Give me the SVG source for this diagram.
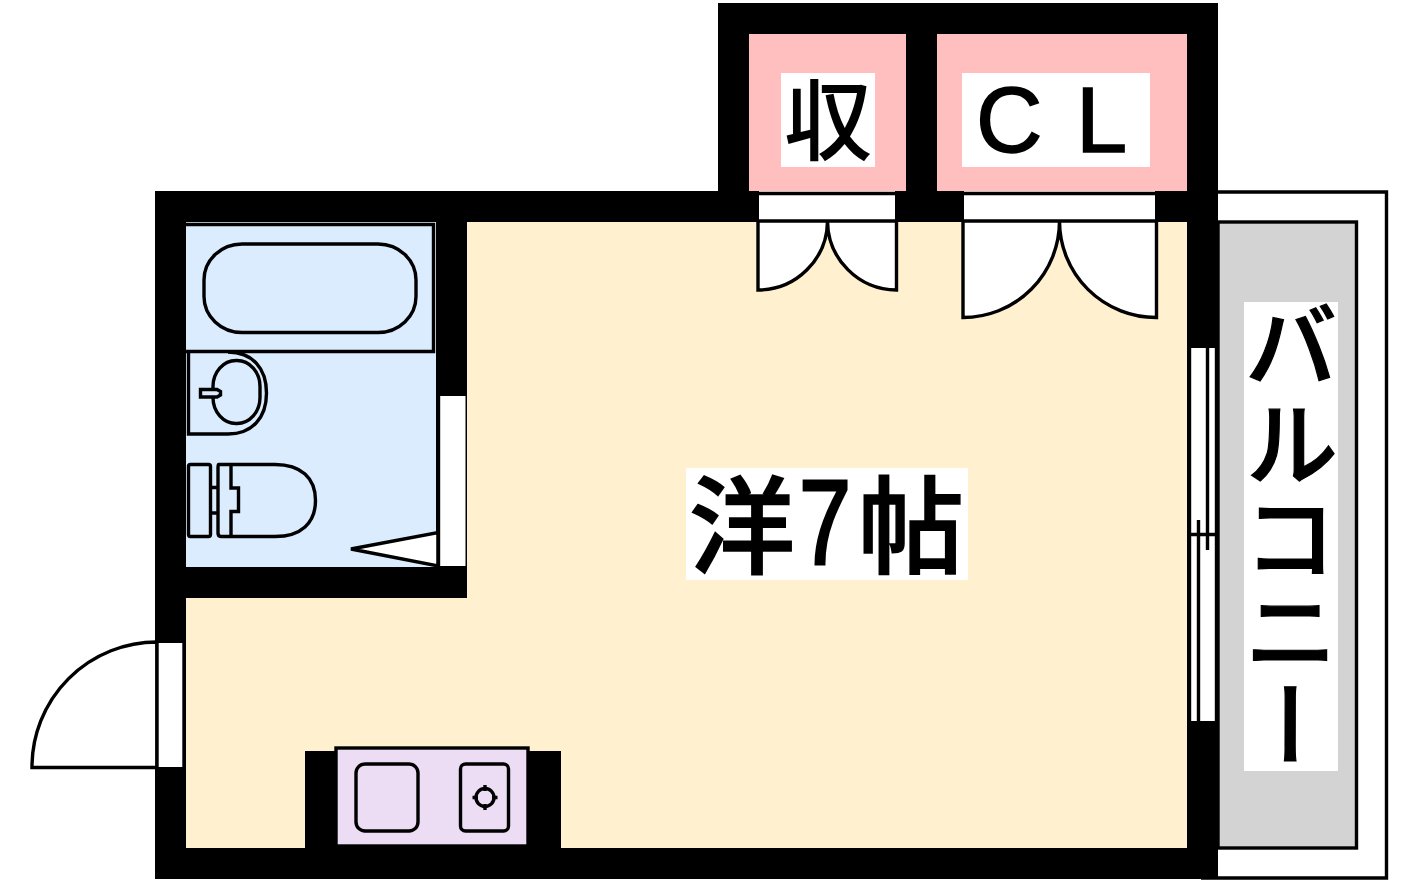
<svg xmlns="http://www.w3.org/2000/svg" width="1417" height="888" viewBox="0 0 1417 888">
<style>
.l{fill:none;stroke:#000;stroke-width:3.4}
.w{fill:#fff;stroke:#000;stroke-width:3.4}
.b{fill:#fff}
.t{font-family:"Noto Sans CJK JP","Noto Sans CJK SC",sans-serif;font-size:94px;font-weight:500;fill:#000}
.a{font-family:"Liberation Sans",Arial,sans-serif;fill:#000}
</style>
<rect width="1417" height="888" fill="#fff"/>
<g id="balcony">
<path d="M1201 878H1386.500V192H1218" class="l"/>
<rect x="1218" y="222" width="138.500" height="626" fill="#d3d3d3" stroke="#000" stroke-width="3.400"/>
<rect x="1244" y="302" width="94" height="469" class="b"/>
<text class="t" x="1291" y="298 396 490 584 678" style="writing-mode:vertical-rl;stroke:#000;stroke-width:1.200">バルコニー</text>
</g>
<g id="walls">
<path d="M155 191H718V3H1218V879H155Z" fill="#000"/>
</g>
<g id="room">
<path d="M467 222H1187V848H186V598H467Z" fill="#fff0cf"/>
<rect x="686" y="468" width="282" height="112" class="b"/>
<text class="t" x="689" y="565" style="font-size:106px;stroke:#000;stroke-width:1.500">洋</text>
<text class="t" x="858" y="565" style="font-size:106px;stroke:#000;stroke-width:1.500">帖</text>
<text class="a" transform="translate(799 564) scale(.78 1)" font-size="120" stroke="#000" stroke-width="3">7</text>
</g>
<g id="bath">
<rect x="186" y="222" width="250" height="345" fill="#dbecff"/>
<path d="M186 351.500H433.500V224.500H186" class="l"/>
<rect x="204" y="244" width="212" height="88.500" rx="38" ry="36" class="l"/>
<path d="M188.500 352V434H228C252 434 266.500 418 266.500 393C266.500 368 252 352 228 352" class="l"/>
<rect x="213" y="360.500" width="47" height="63" rx="23" ry="26" class="l"/>
<path d="M200.500 389.500H217L220.500 391.500V395L217 397H200.500Z" class="l" style="fill:#dbecff"/>
<rect x="188.500" y="464.500" width="22" height="72" rx="2" class="l"/>
<path d="M231 464.500H218.500Q218 464.500 218 468V533Q218 536.500 221 536.500H275C301 536.500 315.500 523 315.500 500.500C315.500 478 301 464.500 275 464.500H231V488H238.500V511.500H231V536.500M211 487.500H218M211 513H218" class="l"/>
<path d="M351 549L438 532.500V566Z" class="w"/>
<rect x="438.500" y="396" width="27" height="170" class="b"/>
<path d="M438.500 396V566" class="l"/>
</g>
<g id="closet-storage">
<rect x="749" y="34" width="157" height="157" fill="#ffbfbf"/>
<rect x="781" y="73" width="94" height="94" class="b"/>
<text class="t" x="784" y="153" style="font-size:88px">収</text>
<rect x="759" y="191" width="136" height="30" class="b"/>
<path d="M759 193.500H895" class="l"/>
<path d="M758 221V290A69.500 69.500 0 0 0 827.500 221ZM896.500 221V290A69.500 69.500 0 0 1 827.500 221Z" class="w"/>
</g>
<g id="closet-cl">
<rect x="937" y="34" width="250" height="157" fill="#ffbfbf"/>
<rect x="962" y="73" width="188" height="94" class="b"/>
<text class="a" x="976 1030 1076" y="152" font-size="92" stroke="#000" stroke-width="1.500">C L</text>
<rect x="964" y="191" width="191" height="30" class="b"/>
<path d="M964 193.500H1155" class="l"/>
<path d="M963 221V317.500A96.500 96.500 0 0 0 1059.500 221ZM1156.500 221V317.500A96.500 96.500 0 0 1 1059.500 221Z" class="w"/>
</g>
<g id="window">
<rect x="1188" y="348" width="30" height="373" class="b"/>
<path d="M1189.500 348V721M1198.500 520V721M1207.500 348V550M1216.500 348V721M1189 534.500H1218" class="l"/>
</g>
<g id="entrance">
<path d="M32 767.500V767A125 125 0 0 1 157 642V767.500Z" class="w"/>
<rect x="157" y="643" width="27" height="124" class="b"/>
<path d="M157 642V768M184 643V767" class="l"/>
</g>
<g id="kitchen">
<rect x="305" y="751" width="256" height="97" fill="#000"/>
<rect x="336" y="748" width="192" height="98" fill="#ecddf5" stroke="#000" stroke-width="3.400"/>
<rect x="356" y="764" width="62" height="67" rx="9" class="l"/>
<rect x="460.500" y="764" width="48" height="67" rx="5" class="l"/>
<circle cx="485" cy="797.500" r="9" class="l"/>
<path d="M485 785V791M485 804V810M472.500 797.500H478M492 797.500H497.500" class="l"/>
</g>
</svg>
